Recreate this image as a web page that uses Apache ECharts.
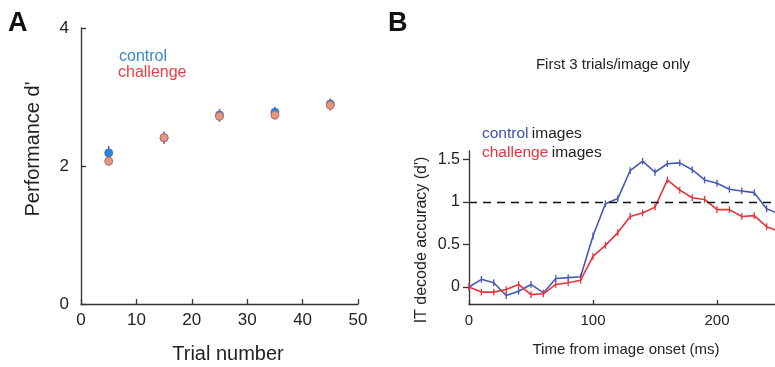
<!DOCTYPE html>
<html>
<head>
<meta charset="utf-8">
<script src="https://cdn.jsdelivr.net/npm/echarts@6/dist/echarts.min.js"></script>
<style>
html,body{margin:0;padding:0;background:#fff;}
#c{width:775px;height:367px;}
</style>
</head>
<body>
<div id="c"></div>
<script>
// ---- Panel A data ----
const trials = [5, 15, 25, 35, 45];
const controlD = [2.19, 2.41, 2.74, 2.78, 2.90];
const controlErr = [0.10, 0.09, 0.09, 0.08, 0.08];
const challengeD = [2.07, 2.41, 2.72, 2.74, 2.88];
const challengeErr = [0.07, 0.08, 0.08, 0.07, 0.08];
const aXTicks = [0, 10, 20, 30, 40, 50];
const aYTicks = [0, 2, 4];

// ---- Panel B data ----
const timesMs = [0,10,20,30,40,50,60,70,80,90,100,110,120,130,140,150,160,170,180,190,200,210,220,230,240,250];
const controlAcc = [0, 0.09, 0.05, -0.10, -0.05, 0.03, -0.07, 0.10, 0.11, 0.12, 0.60, 0.98, 1.04, 1.37, 1.48, 1.35, 1.45, 1.46, 1.38, 1.26, 1.22, 1.15, 1.13, 1.11, 0.92, 0.86];
const challengeAcc = [0, -0.06, -0.06, -0.03, 0.03, -0.09, -0.08, 0.03, 0.05, 0.08, 0.36, 0.49, 0.64, 0.83, 0.87, 0.94, 1.26, 1.14, 1.05, 1.03, 0.91, 0.91, 0.83, 0.84, 0.71, 0.655];
const accErr = 0.04;
const bXTicks = [0, 100, 200];
const bYTicks = [0, 0.5, 1, 1.5];
const threshold = 1;

const FONT = 'Liberation Sans, Arial, Helvetica, sans-serif';
const AX = '#333';

function errData(xs, ys, es) {
  return xs.map((x, i) => [x, ys[i] - es[i], ys[i] + es[i]]);
}
function errBarSeries(xi, yi, data, color, width, z) {
  return {
    type: 'custom', xAxisIndex: xi, yAxisIndex: yi, z: z, silent: true,
    data: data,
    renderItem: function (params, api) {
      const p1 = api.coord([api.value(0), api.value(1)]);
      const p2 = api.coord([api.value(0), api.value(2)]);
      return { type: 'line', shape: { x1: p1[0], y1: p1[1], x2: p2[0], y2: p2[1] },
        style: { stroke: color, lineWidth: width } };
    }
  };
}

const chart = echarts.init(document.getElementById('c'), null, { renderer: 'canvas' });

function axisBase(tickInside, tickLen, ticks) {
  return {
    axisLine: { show: true, onZero: false, lineStyle: { color: AX, width: 1.3 } },
    axisTick: { show: true, inside: tickInside, length: tickLen, customValues: ticks, lineStyle: { color: AX, width: 1.3 } },
    splitLine: { show: false }
  };
}

const option = {
  animation: false,
  backgroundColor: '#fff',
  grid: [
    { left: 81, top: 28, width: 277, height: 276, outerBoundsMode: 'none', containLabel: false },
    { left: 469, top: 151, width: 310, height: 153, outerBoundsMode: 'none', containLabel: false }
  ],
  xAxis: [
    Object.assign(axisBase(true, 5, aXTicks), { gridIndex: 0, type: 'value', min: 0, max: 50,
      axisLabel: { color: '#222', fontSize: 17, fontFamily: FONT, margin: 8, customValues: aXTicks } }),
    Object.assign(axisBase(true, 4, bXTicks), { gridIndex: 1, type: 'value', min: 0, max: 250,
      axisLabel: { color: '#222', fontSize: 15, fontFamily: FONT, margin: 9, customValues: bXTicks } })
  ],
  yAxis: [
    Object.assign(axisBase(true, 5, aYTicks), { gridIndex: 0, type: 'value', min: 0, max: 4,
      axisLabel: { color: '#222', fontSize: 17, fontFamily: FONT, margin: 12, customValues: aYTicks } }),
    Object.assign(axisBase(false, 6, bYTicks), { gridIndex: 1, type: 'value', min: -0.2, max: 1.6,
      axisLabel: { color: '#222', fontSize: 16, fontFamily: FONT, margin: 9, customValues: bYTicks } })
  ],
  series: [
    // Panel A
    errBarSeries(0, 0, errData(trials, controlD, controlErr), '#5b6cc0', 1.5, 2),
    { type: 'scatter', xAxisIndex: 0, yAxisIndex: 0, z: 3, symbol: 'circle', symbolSize: 8,
      data: trials.map((t, i) => [t, controlD[i]]),
      itemStyle: { color: '#2f86d8', borderColor: '#2a6fc0', borderWidth: 0.8, opacity: 1 } },
    errBarSeries(0, 0, errData(trials, challengeD, challengeErr), '#9a5a8a', 1.5, 4),
    { type: 'scatter', xAxisIndex: 0, yAxisIndex: 0, z: 5, symbol: 'circle', symbolSize: 8,
      data: trials.map((t, i) => [t, challengeD[i]]),
      itemStyle: { color: '#e3977f', borderColor: '#b86a66', borderWidth: 1, opacity: 1 } },
    // Panel B
    { type: 'line', xAxisIndex: 1, yAxisIndex: 1, z: 3, symbol: 'none',
      data: timesMs.map((t, i) => [t, controlAcc[i]]),
      lineStyle: { color: '#4659b3', width: 1.6 },
      markLine: { silent: true, symbol: 'none', label: { show: false },
        lineStyle: { color: '#111', type: [8, 6], width: 1.3 },
        data: [{ yAxis: threshold }] } },
    errBarSeries(1, 1, errData(timesMs, controlAcc, timesMs.map(() => accErr)), '#4659b3', 1.3, 3),
    { type: 'line', xAxisIndex: 1, yAxisIndex: 1, z: 4, symbol: 'none',
      data: timesMs.map((t, i) => [t, challengeAcc[i]]),
      lineStyle: { color: '#e8323c', width: 1.6 } },
    errBarSeries(1, 1, errData(timesMs, challengeAcc, timesMs.map(() => accErr)), '#e8323c', 1.3, 4)
  ],
  graphic: [
    { type: 'text', left: 8, top: 10, style: { text: 'A', font: 'bold 27px ' + FONT, fill: '#111' } },
    { type: 'text', left: 388, top: 10, style: { text: 'B', font: 'bold 27px ' + FONT, fill: '#111' } },
    { type: 'text', x: 119, y: 57, style: { text: 'control', font: '16px ' + FONT, fill: '#3a88d2', textVerticalAlign: 'middle' } },
    { type: 'text', x: 118, y: 73, style: { text: 'challenge', font: '16px ' + FONT, fill: '#e5404a', textVerticalAlign: 'middle' } },
    { type: 'text', x: 33, y: 149, rotation: Math.PI / 2, style: { text: "Performance d'", font: '20px ' + FONT, fill: '#222', textAlign: 'center', textVerticalAlign: 'middle' } },
    { type: 'text', x: 228, y: 354, style: { text: 'Trial number', font: '20px ' + FONT, fill: '#222', textAlign: 'center', textVerticalAlign: 'middle' } },
    { type: 'text', x: 613, y: 65, style: { text: 'First 3 trials/image only', font: '15px ' + FONT, fill: '#222', textAlign: 'center', textVerticalAlign: 'middle' } },
    { type: 'text', x: 482, y: 134, style: { rich: { c: { fill: '#3d4fb0', font: '15.5px ' + FONT }, k: { fill: '#222', font: '15.5px ' + FONT } }, text: '{c|control} {k|images}', textVerticalAlign: 'middle' } },
    { type: 'text', x: 482, y: 153, style: { rich: { c: { fill: '#e8323c', font: '15.5px ' + FONT }, k: { fill: '#222', font: '15.5px ' + FONT } }, text: '{c|challenge} {k|images}', textVerticalAlign: 'middle' } },
    { type: 'text', x: 422, y: 240, rotation: Math.PI / 2, style: { text: "IT decode accuracy (d')", font: '16px ' + FONT, fill: '#222', textAlign: 'center', textVerticalAlign: 'middle' } },
    { type: 'text', x: 626, y: 350, style: { text: 'Time from image onset (ms)', font: '15px ' + FONT, fill: '#222', textAlign: 'center', textVerticalAlign: 'middle' } }
  ]
};
chart.setOption(option);
</script>
</body>
</html>
